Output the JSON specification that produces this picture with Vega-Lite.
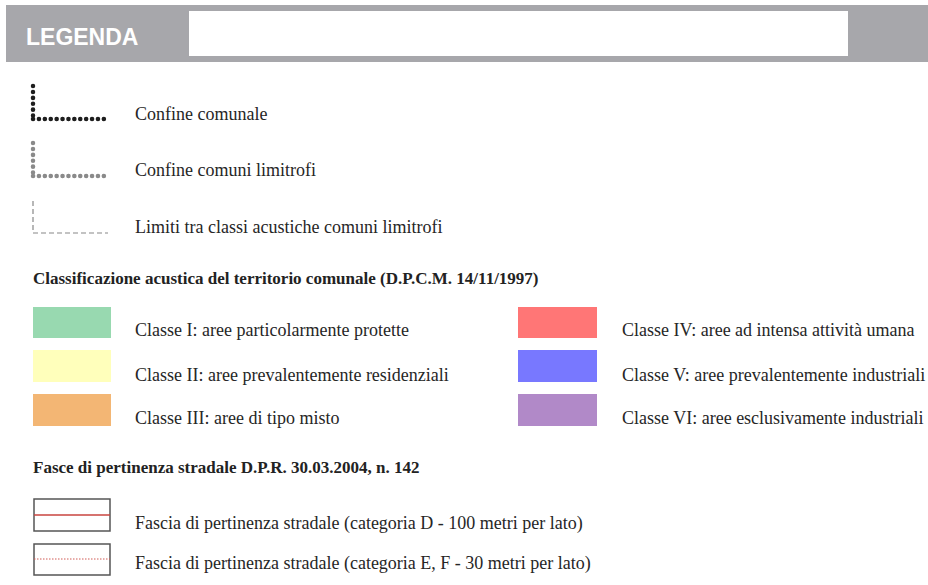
{
  "$schema": "https://vega.github.io/schema/vega-lite/v6.json",
  "width": 928,
  "height": 585,
  "autosize": {"type": "fit", "contains": "padding"},
  "padding": 0,
  "background": "white",
  "config": {"view": {"stroke": null}},
  "datasets": {
    "rects": [
      {"id": "header", "x": 6, "x2": 928, "y": 5, "y2": 62, "fill": "#a7a7ab", "stroke": "#a7a7ab", "sw": 0},
      {"id": "box", "x": 189, "x2": 848, "y": 11, "y2": 56, "fill": "#ffffff", "stroke": "#ffffff", "sw": 0},
      {"id": "c1", "x": 33, "x2": 111, "y": 307, "y2": 338, "fill": "#98d9b0", "stroke": "#98d9b0", "sw": 0},
      {"id": "c2", "x": 33, "x2": 111, "y": 350, "y2": 382, "fill": "#ffffbb", "stroke": "#ffffbb", "sw": 0},
      {"id": "c3", "x": 33, "x2": 111, "y": 394, "y2": 426, "fill": "#f3b674", "stroke": "#f3b674", "sw": 0},
      {"id": "c4", "x": 518, "x2": 597, "y": 307, "y2": 338, "fill": "#ff7676", "stroke": "#ff7676", "sw": 0},
      {"id": "c5", "x": 518, "x2": 597, "y": 350, "y2": 382, "fill": "#7878ff", "stroke": "#7878ff", "sw": 0},
      {"id": "c6", "x": 518, "x2": 597, "y": 394, "y2": 426, "fill": "#b189c8", "stroke": "#b189c8", "sw": 0},
      {"id": "r1", "x": 34, "x2": 110, "y": 499, "y2": 531, "fill": "#ffffff", "stroke": "#555555", "sw": 1.5},
      {"id": "r2", "x": 34, "x2": 110, "y": 544, "y2": 575, "fill": "#ffffff", "stroke": "#555555", "sw": 1.5}
    ],
    "lines": [
      {"style": "black", "x": 33, "x2": 33, "y": 86, "y2": 117},
      {"style": "black", "x": 33, "x2": 108, "y": 119, "y2": 119},
      {"style": "gray", "x": 33, "x2": 33, "y": 143, "y2": 174},
      {"style": "gray", "x": 33, "x2": 108, "y": 176, "y2": 176},
      {"style": "dash", "x": 33, "x2": 33, "y": 201, "y2": 231},
      {"style": "dash", "x": 33, "x2": 108, "y": 233, "y2": 233},
      {"style": "red", "x": 34, "x2": 110, "y": 515, "y2": 515},
      {"style": "reddot", "x": 34, "x2": 110, "y": 559, "y2": 559}
    ],
    "texts": [
      {"style": "title", "x": 26, "y": 45, "text": "LEGENDA"},
      {"style": "normal", "x": 135, "y": 120, "text": "Confine comunale"},
      {"style": "normal", "x": 135, "y": 176, "text": "Confine comuni limitrofi"},
      {"style": "normal", "x": 135, "y": 233, "text": "Limiti tra classi acustiche comuni limitrofi"},
      {"style": "bold", "x": 33, "y": 284, "text": "Classificazione acustica del territorio comunale (D.P.C.M. 14/11/1997)"},
      {"style": "normal", "x": 135, "y": 336, "text": "Classe I: aree particolarmente protette"},
      {"style": "normal", "x": 135, "y": 381, "text": "Classe II: aree prevalentemente residenziali"},
      {"style": "normal", "x": 135, "y": 424, "text": "Classe III: aree di tipo misto"},
      {"style": "normal", "x": 622, "y": 336, "text": "Classe IV: aree ad intensa attività umana"},
      {"style": "normal", "x": 622, "y": 381, "text": "Classe V: aree prevalentemente industriali"},
      {"style": "normal", "x": 622, "y": 424, "text": "Classe VI: aree esclusivamente industriali"},
      {"style": "bold", "x": 33, "y": 473, "text": "Fasce di pertinenza stradale D.P.R. 30.03.2004, n. 142"},
      {"style": "normal", "x": 135, "y": 529, "text": "Fascia di pertinenza stradale (categoria D - 100 metri per lato)"},
      {"style": "normal", "x": 135, "y": 569, "text": "Fascia di pertinenza stradale (categoria E, F - 30 metri per lato)"}
    ]
  },
  "layer": [
    {
      "data": {"name": "rects"},
      "mark": {"type": "rect"},
      "encoding": {
        "x": {"field": "x", "type": "quantitative", "scale": {"domain": [0, 928], "nice": false, "zero": false}, "axis": null},
        "x2": {"field": "x2"},
        "y": {"field": "y", "type": "quantitative", "scale": {"domain": [0, 585], "nice": false, "zero": false, "reverse": true}, "axis": null},
        "y2": {"field": "y2"},
        "fill": {"field": "fill", "type": "nominal", "scale": null, "legend": null},
        "stroke": {"field": "stroke", "type": "nominal", "scale": null, "legend": null},
        "strokeWidth": {"field": "sw", "type": "quantitative", "scale": null, "legend": null}
      }
    },
    {
      "data": {"name": "lines"},
      "transform": [{"filter": "datum.style === 'black'"}],
      "mark": {"type": "rule", "color": "#1e1e1e", "strokeWidth": 4.5, "strokeCap": "round", "strokeDash": [0.1, 5.8]},
      "encoding": {
        "x": {"field": "x", "type": "quantitative"}, "x2": {"field": "x2"},
        "y": {"field": "y", "type": "quantitative"}, "y2": {"field": "y2"}
      }
    },
    {
      "data": {"name": "lines"},
      "transform": [{"filter": "datum.style === 'gray'"}],
      "mark": {"type": "rule", "color": "#8a8a8a", "strokeWidth": 4.5, "strokeCap": "round", "strokeDash": [0.1, 5.8]},
      "encoding": {
        "x": {"field": "x", "type": "quantitative"}, "x2": {"field": "x2"},
        "y": {"field": "y", "type": "quantitative"}, "y2": {"field": "y2"}
      }
    },
    {
      "data": {"name": "lines"},
      "transform": [{"filter": "datum.style === 'dash'"}],
      "mark": {"type": "rule", "color": "#888888", "strokeWidth": 1.2, "strokeDash": [5, 3]},
      "encoding": {
        "x": {"field": "x", "type": "quantitative"}, "x2": {"field": "x2"},
        "y": {"field": "y", "type": "quantitative"}, "y2": {"field": "y2"}
      }
    },
    {
      "data": {"name": "lines"},
      "transform": [{"filter": "datum.style === 'red'"}],
      "mark": {"type": "rule", "color": "#c8453f", "strokeWidth": 1.3},
      "encoding": {
        "x": {"field": "x", "type": "quantitative"}, "x2": {"field": "x2"},
        "y": {"field": "y", "type": "quantitative"}, "y2": {"field": "y2"}
      }
    },
    {
      "data": {"name": "lines"},
      "transform": [{"filter": "datum.style === 'reddot'"}],
      "mark": {"type": "rule", "color": "#d05a55", "strokeWidth": 1, "strokeDash": [1.5, 1.5]},
      "encoding": {
        "x": {"field": "x", "type": "quantitative"}, "x2": {"field": "x2"},
        "y": {"field": "y", "type": "quantitative"}, "y2": {"field": "y2"}
      }
    },
    {
      "data": {"name": "texts"},
      "transform": [{"filter": "datum.style === 'normal'"}],
      "mark": {"type": "text", "align": "left", "baseline": "alphabetic", "font": "Liberation Serif", "fontSize": 18, "color": "#262626"},
      "encoding": {
        "x": {"field": "x", "type": "quantitative"},
        "y": {"field": "y", "type": "quantitative"},
        "text": {"field": "text"}
      }
    },
    {
      "data": {"name": "texts"},
      "transform": [{"filter": "datum.style === 'bold'"}],
      "mark": {"type": "text", "align": "left", "baseline": "alphabetic", "font": "Liberation Serif", "fontSize": 17, "fontWeight": "bold", "color": "#222222"},
      "encoding": {
        "x": {"field": "x", "type": "quantitative"},
        "y": {"field": "y", "type": "quantitative"},
        "text": {"field": "text"}
      }
    },
    {
      "data": {"name": "texts"},
      "transform": [{"filter": "datum.style === 'title'"}],
      "mark": {"type": "text", "align": "left", "baseline": "alphabetic", "font": "Liberation Sans", "fontSize": 23, "fontWeight": "bold", "color": "#ffffff"},
      "encoding": {
        "x": {"field": "x", "type": "quantitative"},
        "y": {"field": "y", "type": "quantitative"},
        "text": {"field": "text"}
      }
    }
  ]
}
